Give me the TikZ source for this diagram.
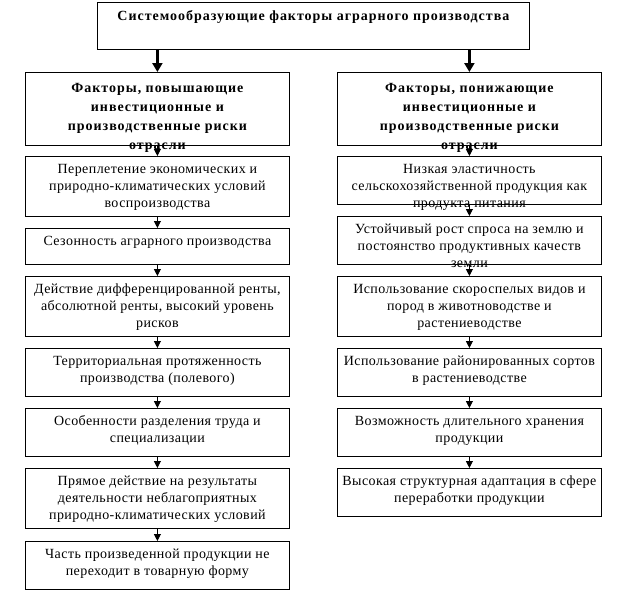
\documentclass[tikz,border=0pt]{standalone}
\usepackage{fontspec}
\setmainfont{Liberation Serif}
\newfontfamily\itemfont[LetterSpace=3]{Liberation Serif}
\newfontfamily\hdrfont[LetterSpace=7]{Liberation Serif}
\usetikzlibrary{arrows.meta}
\begin{document}
\begin{tikzpicture}[x=1pt,y=-1pt,
  box/.style={draw, line width=0.8pt, inner sep=0pt, minimum width=264pt, anchor=north west},
  txt/.style={align=center, inner sep=0pt, anchor=north, font=\itemfont\fontsize{14}{17}\selectfont},
  hdr/.style={align=center, inner sep=0pt, anchor=north, font=\hdrfont\fontsize{14}{19}\selectfont\bfseries},
  arr/.style={-{Triangle[width=7pt,length=7pt]}, line width=0.8pt},
  bigarr/.style={-{Triangle[width=10pt,length=9pt]}, line width=2.8pt}]
\useasboundingbox (0,0) rectangle (625,590);
% top
\node[box, minimum width=432pt, minimum height=47pt] (top) at (97,2) {};
\node[hdr] (topt) at ([yshift=-5pt]top.north) {\strut Системообразующие факторы аграрного производства};
% headers
\node[box, minimum height=73pt] (lh) at (25,72) {};
\node[hdr] (lht) at ([yshift=-7pt]lh.north) {\strut Факторы, повышающие\\инвестиционные и\\производственные риски\\отрасли};
\node[box, minimum height=73pt] (rh) at (337,72) {};
\node[hdr] (rht) at ([yshift=-7pt]rh.north) {\strut Факторы, понижающие\\инвестиционные и\\производственные риски\\отрасли};
% left column
\node[box, minimum height=60pt] (l1) at (25,156) {};
\node[txt] (l1t) at ([yshift=-5pt]l1.north) {\strut Переплетение экономических и\\природно-климатических условий\\воспроизводства};
\node[box, minimum height=36pt] (l2) at (25,228) {};
\node[txt] (l2t) at ([yshift=-5pt]l2.north) {\strut Сезонность аграрного производства};
\node[box, minimum height=60pt] (l3) at (25,276) {};
\node[txt] (l3t) at ([yshift=-5pt]l3.north) {\strut Действие дифференцированной ренты,\\абсолютной ренты, высокий уровень\\рисков};
\node[box, minimum height=48pt] (l4) at (25,348) {};
\node[txt] (l4t) at ([yshift=-5pt]l4.north) {\strut Территориальная протяженность\\производства (полевого)};
\node[box, minimum height=48pt] (l5) at (25,408) {};
\node[txt] (l5t) at ([yshift=-5pt]l5.north) {\strut Особенности разделения труда и\\специализации};
\node[box, minimum height=60pt] (l6) at (25,468) {};
\node[txt] (l6t) at ([yshift=-5pt]l6.north) {\strut Прямое действие на результаты\\деятельности неблагоприятных\\природно-климатических условий};
\node[box, minimum height=48pt] (l7) at (25,541) {};
\node[txt] (l7t) at ([yshift=-5pt]l7.north) {\strut Часть произведенной продукции не\\переходит в товарную форму};
% right column
\node[box, minimum height=48pt] (r1) at (337,156) {};
\node[txt] (r1t) at ([yshift=-5pt]r1.north) {\strut Низкая эластичность\\сельскохозяйственной продукция как\\продукта питания};
\node[box, minimum height=48pt] (r2) at (337,216) {};
\node[txt] (r2t) at ([yshift=-5pt]r2.north) {\strut Устойчивый рост спроса на землю и\\постоянство продуктивных качеств\\земли};
\node[box, minimum height=60pt] (r3) at (337,276) {};
\node[txt] (r3t) at ([yshift=-5pt]r3.north) {\strut Использование скороспелых видов и\\пород в животноводстве и\\растениеводстве};
\node[box, minimum height=48pt] (r4) at (337,348) {};
\node[txt] (r4t) at ([yshift=-5pt]r4.north) {\strut Использование районированных сортов\\в растениеводстве};
\node[box, minimum height=48pt] (r5) at (337,408) {};
\node[txt] (r5t) at ([yshift=-5pt]r5.north) {\strut Возможность длительного хранения\\продукции};
\node[box, minimum height=48pt] (r6) at (337,468) {};
\node[txt] (r6t) at ([yshift=-5pt]r6.north) {\strut Высокая структурная адаптация в сфере\\переработки продукции};
% arrows
\draw[bigarr] (top.south -| lh.north) -- (lh.north);
\draw[bigarr] (top.south -| rh.north) -- (rh.north);
\draw[arr] (lh.south) -- (l1.north);
\draw[arr] (l1.south) -- (l2.north);
\draw[arr] (l2.south) -- (l3.north);
\draw[arr] (l3.south) -- (l4.north);
\draw[arr] (l4.south) -- (l5.north);
\draw[arr] (l5.south) -- (l6.north);
\draw[arr] (l6.south) -- (l7.north);
\draw[arr] (rh.south) -- (r1.north);
\draw[arr] (r1.south) -- (r2.north);
\draw[arr] (r2.south) -- (r3.north);
\draw[arr] (r3.south) -- (r4.north);
\draw[arr] (r4.south) -- (r5.north);
\draw[arr] (r5.south) -- (r6.north);
\end{tikzpicture}
\end{document}
